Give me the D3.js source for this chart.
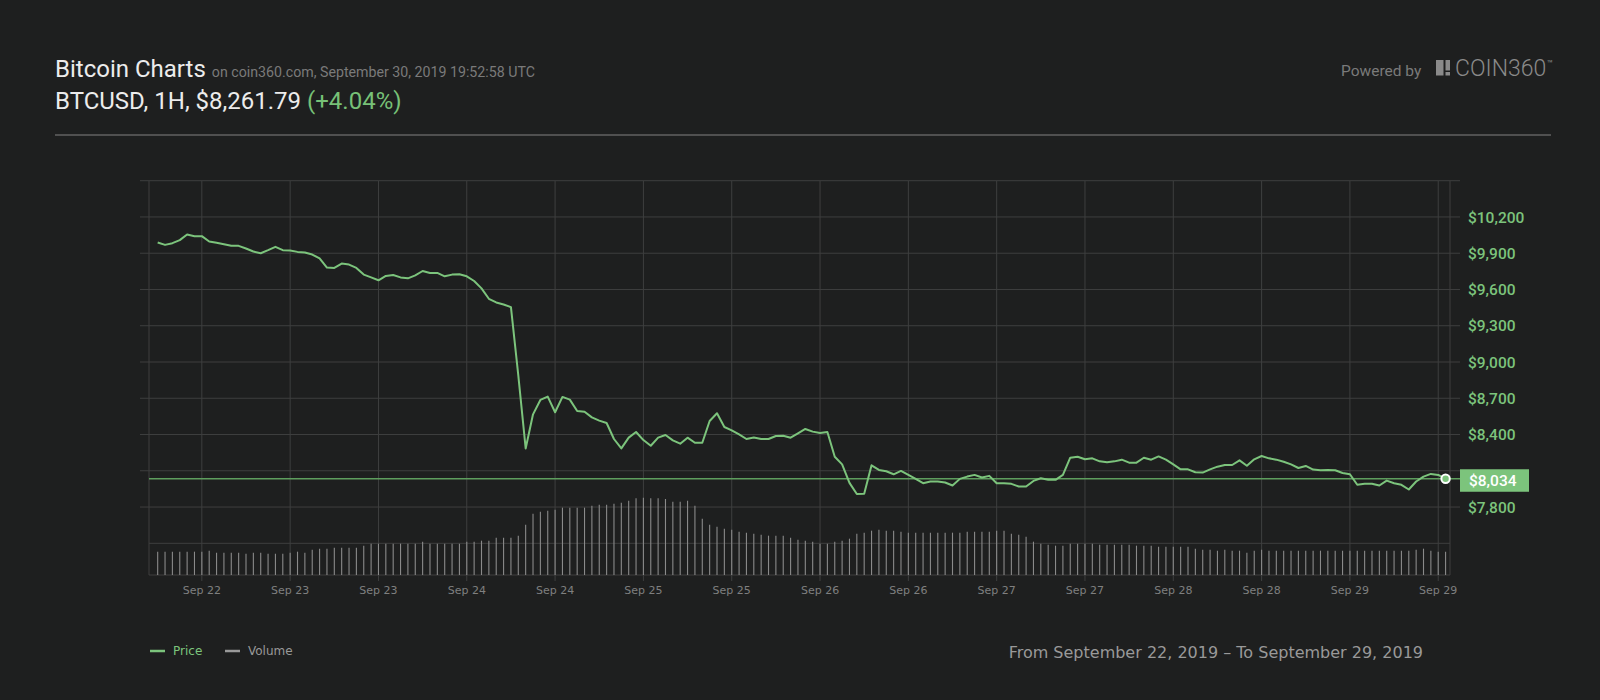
<!DOCTYPE html>
<html lang="en">
<head>
<meta charset="UTF-8">
<title>Bitcoin Charts</title>
<script src="https://d3js.org/d3.v7.min.js"></script>
<style>
  html, body { margin: 0; padding: 0; background: #1e1f1f; }
  svg { display: block; }
  .grid line { stroke: #3e3f3f; stroke-width: 1; }
  .ylabel { font: 500 15.5px Roboto, sans-serif; fill: #7cc47c; }
  .xlabel { font: 11px "DejaVu Sans", sans-serif; fill: #7f7f7f; }
  .legend { font: 12px "DejaVu Sans", sans-serif; }
</style>
</head>
<body>
<svg width="1600" height="700"></svg>
<script>
// hourly closes, Sep 22 06:00 -> Sep 29 13:00 (UTC axis)
const startHour = Date.UTC(2019, 8, 22, 6);

const price = [
  9989, 9969, 9983, 10008, 10055, 10041, 10041, 9997, 9986, 9975,
  9961, 9961, 9939, 9914, 9900, 9925, 9953, 9925, 9922, 9911,
  9906, 9889, 9858, 9781, 9778, 9814, 9806, 9778, 9723, 9700,
  9676, 9712, 9720, 9700, 9692, 9717, 9753, 9737, 9737, 9709,
  9723, 9726, 9709, 9670, 9609, 9523, 9493, 9476, 9454, 8890,
  8285, 8567, 8686, 8714, 8584, 8711, 8689, 8595, 8589, 8542,
  8515, 8495, 8363, 8285, 8374, 8421, 8354, 8307, 8374, 8396,
  8352, 8324, 8374, 8332, 8332, 8512, 8576, 8462, 8435, 8401,
  8363, 8376, 8363, 8363, 8388, 8390, 8374, 8410, 8446, 8424,
  8412, 8421, 8216, 8153, 8000, 7908, 7910, 8145, 8107, 8096,
  8071, 8099, 8066, 8033, 7997, 8011, 8011, 8003, 7978, 8033,
  8052, 8066, 8044, 8058, 7997, 7997, 7992, 7970, 7970, 8016,
  8038, 8025, 8025, 8066, 8208, 8216, 8195, 8203, 8178, 8170,
  8178, 8192, 8167, 8167, 8208, 8192, 8219, 8192, 8153, 8112,
  8112, 8088, 8085, 8112, 8134, 8148, 8148, 8186, 8142, 8195,
  8222, 8203, 8192, 8175, 8153, 8123, 8140, 8110, 8104, 8107,
  8104, 8082, 8071, 7984, 7992, 7992, 7978, 8019, 7997, 7984,
  7945, 8011, 8052, 8074, 8066, 8034
];

const volume = [
  70, 70, 70, 70, 70, 70, 70, 73, 67, 67,
  67, 67, 64, 67, 67, 64, 64, 64, 67, 70,
  67, 76, 79, 79, 82, 82, 82, 82, 88, 94,
  94, 94, 94, 94, 94, 94, 100, 94, 94, 94,
  94, 94, 100, 100, 103, 103, 112, 112, 112, 118,
  151, 184, 190, 193, 196, 202, 202, 202, 202, 208,
  211, 211, 214, 217, 223, 230, 232, 230, 230, 228,
  220, 220, 223, 208, 169, 151, 145, 139, 136, 130,
  127, 124, 121, 118, 118, 118, 112, 106, 103, 100,
  94, 94, 100, 103, 109, 124, 127, 133, 136, 133,
  133, 130, 127, 127, 127, 127, 127, 127, 127, 127,
  130, 130, 130, 130, 133, 133, 124, 121, 115, 100,
  94, 91, 88, 88, 94, 94, 94, 94, 91, 91,
  91, 91, 91, 88, 88, 88, 85, 85, 85, 85,
  85, 79, 76, 76, 73, 76, 73, 73, 67, 73,
  76, 73, 73, 73, 73, 73, 73, 73, 73, 73,
  73, 73, 73, 73, 73, 73, 73, 73, 73, 73,
  73, 76, 79, 73, 70, 70
];

const gridValues = [7800, 8100, 8400, 8700, 9000, 9300, 9600, 9900, 10200, 10500];
const labelValues = [7800, 8400, 8700, 9000, 9300, 9600, 9900, 10200];
const lastPrice = 8034;

const svg = d3.select("svg");

const plotLeft = 149, plotRight = 1450, plotTop = 181, plotBottom = 575;
const green = "#7cc47c";

const times = price.map((d, i) => new Date(startHour + i * 3600e3));
const data = times.map((t, i) => ({t: t, p: price[i], v: volume[i]}));

const x = d3.scaleUtc()
  .domain([new Date(startHour - 1.18 * 3600e3), new Date(startHour + 175.6 * 3600e3)])
  .range([plotLeft, plotRight]);

const y = d3.scaleLinear().domain([7500, 10500]).range([543.3, 180.7]);
const yVol = d3.scaleLinear().domain([0, 240]).range([plotBottom, plotBottom - 80]);

const money = d3.format("$,");

// ---- header ----
const h1 = svg.append("text").attr("x", 55).attr("y", 77)
  .style("font", "24px Roboto, sans-serif").attr("fill", "#ececec")
  .text("Bitcoin Charts");
h1.append("tspan").attr("dx", 6).style("font-size", "14.2px").attr("fill", "#7a7a7a")
  .text("on coin360.com, September 30, 2019 19:52:58 UTC");

const h2 = svg.append("text").attr("x", 55).attr("y", 109)
  .style("font", "24px Roboto, sans-serif").attr("fill", "#ececec")
  .text("BTCUSD, 1H, $8,261.79 ");
h2.append("tspan").attr("fill", "#77c177").text("(+4.04%)");

svg.append("line").attr("x1", 55).attr("x2", 1551).attr("y1", 135).attr("y2", 135)
  .attr("stroke", "#505050").attr("stroke-width", 2);

svg.append("text").attr("x", 1341).attr("y", 76)
  .style("font", "15.5px Roboto, sans-serif").attr("fill", "#7a7a7a")
  .text("Powered by");

const logo = svg.append("g").attr("fill", "#8a8a8a");
logo.append("rect").attr("x", 1436).attr("y", 60).attr("width", 7.5).attr("height", 15.5);
logo.append("rect").attr("x", 1445.5).attr("y", 60).attr("width", 4.5).attr("height", 10.5);
logo.append("rect").attr("x", 1445.5).attr("y", 72).attr("width", 4.5).attr("height", 3.5);
logo.append("text").attr("x", 1455).attr("y", 75.5)
  .style("font", "300 23px Roboto, sans-serif").text("COIN360");
logo.append("text").attr("x", 1547).attr("y", 67)
  .style("font", "10px Roboto, sans-serif").text("™");

// ---- grid ----
const grid = svg.append("g").attr("class", "grid");

grid.selectAll(".hg").data(gridValues).enter().append("line")
  .attr("x1", 140).attr("x2", 1460)
  .attr("y1", d => y(d)).attr("y2", d => y(d));

grid.append("line").attr("x1", plotLeft).attr("x2", plotRight).attr("y1", y(7500)).attr("y2", y(7500));
grid.append("line").attr("x1", plotLeft).attr("x2", plotRight).attr("y1", plotBottom).attr("y2", plotBottom);

const xTicks = x.ticks(d3.utcHour.every(12));
grid.selectAll(".vg").data(xTicks).enter().append("line")
  .attr("x1", d => x(d)).attr("x2", d => x(d))
  .attr("y1", plotTop).attr("y2", plotBottom + 6);

grid.selectAll(".edge").data([plotLeft, plotRight]).enter().append("line")
  .attr("x1", d => d).attr("x2", d => d)
  .attr("y1", plotTop).attr("y2", plotBottom);

// ---- volume ----
svg.append("g").selectAll("line").data(data).enter().append("line")
  .attr("x1", d => x(d.t)).attr("x2", d => x(d.t))
  .attr("y1", plotBottom).attr("y2", d => yVol(d.v))
  .attr("stroke", "#8a8a8a").attr("stroke-width", 1.1);

// ---- last price line ----
svg.append("line").attr("x1", plotLeft).attr("x2", 1460)
  .attr("y1", y(lastPrice)).attr("y2", y(lastPrice))
  .attr("stroke", "#5e9e5e").attr("stroke-width", 1.6);

// ---- price line ----
const line = d3.line().x(d => x(d.t)).y(d => y(d.p));
svg.append("path").datum(data)
  .attr("d", line)
  .attr("fill", "none")
  .attr("stroke", green)
  .attr("stroke-width", 2)
  .attr("stroke-linejoin", "round");

const last = data[data.length - 1];
svg.append("circle").attr("cx", x(last.t)).attr("cy", y(last.p)).attr("r", 4.2)
  .attr("fill", green).attr("stroke", "#fff").attr("stroke-width", 2);

// ---- y labels ----
svg.append("g").selectAll("text").data(labelValues).enter().append("text")
  .attr("class", "ylabel")
  .attr("x", 1468).attr("y", d => y(d)).attr("dy", "0.36em")
  .text(d => money(d));

svg.append("rect").attr("x", 1460).attr("y", y(lastPrice) - 9.5)
  .attr("width", 69).attr("height", 22.5).attr("fill", green);
svg.append("text").attr("class", "ylabel").style("fill", "#fff")
  .attr("x", 1469).attr("y", y(lastPrice) + 1.5).attr("dy", "0.36em")
  .text(money(lastPrice));

// ---- x labels ----
const fmt = d3.utcFormat("%b %d");
svg.append("g").selectAll("text").data(xTicks).enter().append("text")
  .attr("class", "xlabel")
  .attr("x", d => x(d)).attr("y", 594)
  .attr("text-anchor", "middle")
  .text(d => fmt(d));

// ---- legend ----
const lg = svg.append("g").attr("class", "legend");
lg.append("line").attr("x1", 150).attr("x2", 165).attr("y1", 651).attr("y2", 651)
  .attr("stroke", green).attr("stroke-width", 2.5);
lg.append("text").attr("x", 173).attr("y", 655).attr("fill", green).text("Price");
lg.append("line").attr("x1", 225).attr("x2", 240).attr("y1", 651).attr("y2", 651)
  .attr("stroke", "#999").attr("stroke-width", 2.5);
lg.append("text").attr("x", 248).attr("y", 655).attr("fill", "#999").text("Volume");

svg.append("text").attr("x", 1423).attr("y", 658).attr("text-anchor", "end")
  .style("font", "16px 'DejaVu Sans', sans-serif").attr("fill", "#999")
  .text("From September 22, 2019 – To September 29, 2019");
</script>
</body>
</html>
